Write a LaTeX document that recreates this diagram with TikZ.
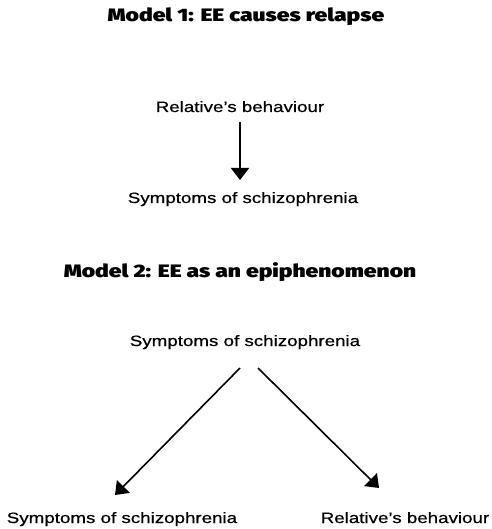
\documentclass[tikz,border=0pt]{standalone}
\usepackage{fontspec}
\setmainfont{Liberation Sans}[FakeStretch=1.25, FakeBold=0.6]
\newfontfamily\heavyfont{Fira Sans Black}[FakeStretch=1.27]
\usetikzlibrary{arrows.meta}
\begin{document}
\begin{tikzpicture}[x=1pt, y=-1pt, line join=round,
		txt/.style={anchor=base, inner sep=0pt, font=\fontsize{15pt}{18pt}\selectfont},
		ttl/.style={anchor=base, inner sep=0pt, font=\fontsize{18pt}{21pt}\heavyfont},
		arr/.style={line width=1.6pt, -{Triangle[length=12pt,width=18pt]}}]
			\useasboundingbox (0,0) rectangle (491,529);
			% model 1
			\node[ttl] (t1) at (246,22) {Model 1: EE causes relapse};
			\node[txt] (rel1) at (240,112) {Relative's behaviour};
			\node[txt] (sym1) at (243,203) {Symptoms of schizophrenia};
			\draw[arr] ([yshift=-10pt]rel1.base) -- ([shift={(-3pt,23pt)}]sym1.base);
			% model 2
			\node[ttl] (t2) at (240,277) {Model 2: EE as an epiphenomenon};
			\node[txt] (sym2) at (245,346) {Symptoms of schizophrenia};
			\node[txt] (sym3) at (122,523) {Symptoms of schizophrenia};
			\node[txt] (rel3) at (405,523) {Relative's behaviour};
			\draw[arr] ([shift={(-5pt,-22pt)}]sym2.base) -- ([shift={(-7pt,28pt)}]sym3.base);
			\draw[arr] ([shift={(13pt,-22pt)}]sym2.base) -- ([shift={(-26pt,35pt)}]rel3.base);
		\end{tikzpicture}
\end{document}
